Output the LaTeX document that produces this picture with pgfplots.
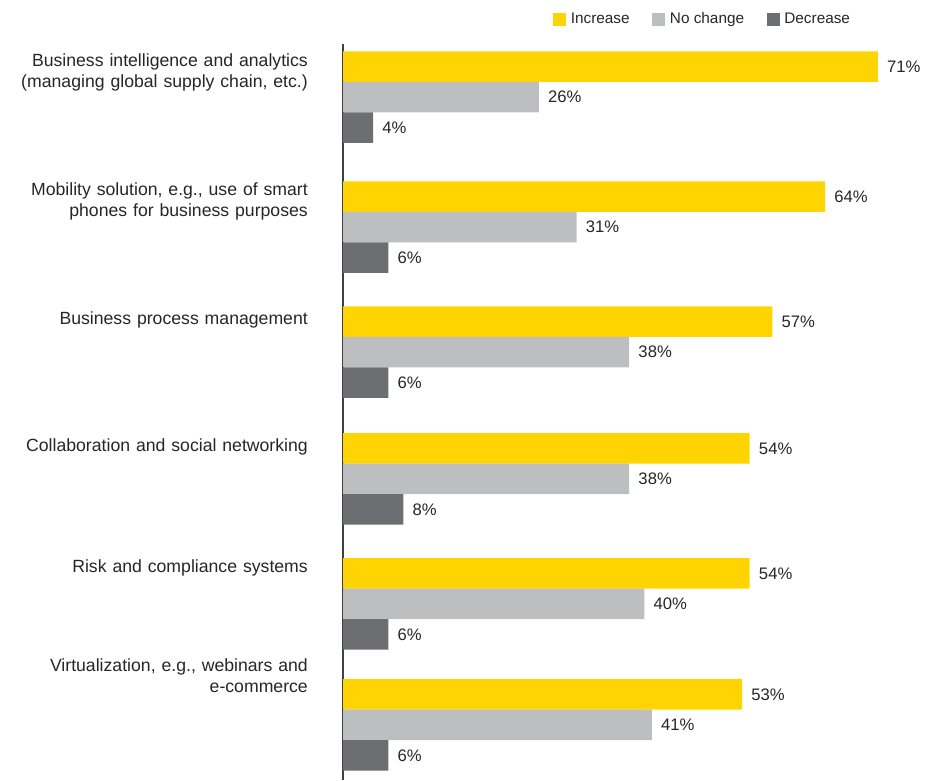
\documentclass[border=0pt]{standalone}
\usepackage{pgfplots}
\pgfplotsset{compat=1.18}
\usepackage{fontspec}
\setmainfont{Liberation Sans}
\definecolor{eyyellow}{HTML}{FFD400}
\definecolor{eygrey}{HTML}{BDBEC0}
\definecolor{eydark}{HTML}{6D6E71}
\definecolor{txt}{HTML}{262626}
\definecolor{axln}{HTML}{404040}
\begin{document}
\begin{tikzpicture}
\begin{axis}[
  x=5.6513pt, y=0.75pt, y dir=reverse,
  xmin=0, xmax=79, ymin=42, ymax=778,
  axis x line*=bottom, axis y line*=left,
  x axis line style={draw=none, -},
  xtick=\empty,
  y axis line style={draw=axln, line width=1.5pt, -},
  xbar, bar width=30.5, bar shift=0pt,
  ytick={70,199.5,318,445,566,673.5},
  yticklabels={{Business intelligence and analytics\\(managing global supply chain, etc.)},
               {Mobility solution, e.g., use of smart\\phones for business purposes},
               {Business process management},
               {Collaboration and social networking},
               {Risk and compliance systems},
               {Virtualization, e.g., webinars and\\e-commerce}},
  major tick length=0pt,
  yticklabel style={align=right, text width=231pt, inner sep=0pt, anchor=east, xshift=-26.25pt,
     font=\fontsize{13.25}{15.5}\selectfont, text=txt},
  point meta=x,
  nodes near coords={\pgfmathprintnumber[assume math mode=true]{\pgfplotspointmeta}\%},
  nodes near coords align=horizontal,
  every node near coord/.append style={anchor=west, inner sep=0pt, xshift=6.75pt,
     font=\fontsize{12.5}{15}\selectfont, text=txt},
  legend image code/.code={\fill[#1, draw=none] (0pt,-4.875pt) rectangle (9.75pt,4.875pt);},
  legend style={at={(axis description cs:0.3528,1.034)}, anchor=west, draw=none, fill=none,
     font=\fontsize{11.5}{13}\selectfont, text=txt, inner xsep=0pt, inner ysep=7.5pt,
     /tikz/every odd column/.append style={column sep=1.5pt},
     /tikz/every even column/.append style={column sep=15pt}},
  legend columns=3,
  clip=false,
]
\addplot[fill=eyyellow, draw=none] coordinates {(71,64.5) (64,194.5) (57,319.5) (54,446.5) (54,571.5) (53,692.5)};
\addplot[fill=eygrey, draw=none] coordinates {(26,95) (31,225) (38,350) (38,477) (40,602) (41,723)};
\addplot[fill=eydark, draw=none] coordinates {(4,125.5) (6,255.5) (6,380.5) (8,507.5) (6,632.5) (6,753.5)};
\legend{Increase, No change, Decrease}
\end{axis}
\end{tikzpicture}
\end{document}
